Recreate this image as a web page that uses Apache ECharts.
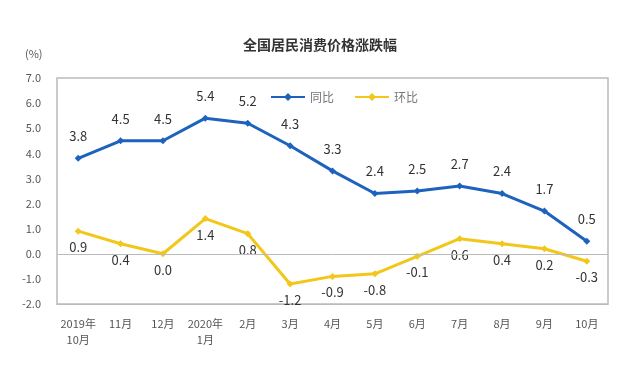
<!DOCTYPE html>
<html><head><meta charset="utf-8">
<script src="https://cdn.jsdelivr.net/npm/echarts@6/dist/echarts.min.js"></script>
<style>html,body{margin:0;padding:0;background:#fff}#c{width:640px;height:367px}</style>
</head><body><div id="c"></div>
<script>
var categories = ['2019年\n10月','11月','12月','2020年\n1月','2月','3月','4月','5月','6月','7月','8月','9月','10月'];
var yoy = [3.8,4.5,4.5,5.4,5.2,4.3,3.3,2.4,2.5,2.7,2.4,1.7,0.5];
var mom = [0.9,0.4,0.0,1.4,0.8,-1.2,-0.9,-0.8,-0.1,0.6,0.4,0.2,-0.3];
var chart = echarts.init(document.getElementById('c'));
var font = '"Noto Sans CJK SC", "Liberation Sans", sans-serif';
chart.setOption({
  animation:false,
  textStyle:{fontFamily:font},
  title:{text:'全国居民消费价格涨跌幅',left:'center',top:33,textStyle:{fontSize:14,fontWeight:'bold',color:'#333',fontFamily:font}},
  legend:{top:86,left:265,itemWidth:34,itemHeight:10,itemGap:20,textStyle:{fontSize:12,color:'#777'},
    data:['同比','环比']},
  grid:{left:57,right:32,top:78,bottom:63,show:true,borderColor:'#bbb',borderWidth:1.5},
  graphic:[{type:'text',left:25,top:48,style:{text:'(%)',fontSize:11,fill:'#555',fontFamily:font}}],
  xAxis:{type:'category',data:categories,boundaryGap:true,
    axisLine:{onZero:false,lineStyle:{color:'#bbb'}},axisTick:{show:false},
    axisLabel:{interval:0,color:'#555',fontSize:11,margin:12,lineHeight:16,fontFamily:'"Noto Sans CJK SC", sans-serif'}},
  yAxis:{type:'value',min:-2,max:7,interval:1,splitLine:{show:false},
    axisLine:{show:false},axisTick:{show:false},
    axisLabel:{color:'#555',fontSize:11,margin:16,formatter:function(v){return v.toFixed(1);}}},
  series:[
    {name:'同比',type:'line',data:yoy,symbol:'diamond',symbolSize:7,
      itemStyle:{color:'#1d63bd'},lineStyle:{color:'#1d63bd',width:3},
      label:{show:true,position:'top',distance:12,fontSize:13,color:'#333',formatter:function(p){return p.value.toFixed(1);}},
      markLine:{silent:true,symbol:'none',label:{show:false},lineStyle:{color:'#bbb',width:1,type:'solid'},data:[{yAxis:0}]}},
    {name:'环比',type:'line',data:mom,symbol:'diamond',symbolSize:7,
      itemStyle:{color:'#f2c71a'},lineStyle:{color:'#f2c71a',width:3},
      label:{show:true,position:'bottom',distance:6,fontSize:13,color:'#333',formatter:function(p){return p.value.toFixed(1);}}}
  ]
});
</script></body></html>
